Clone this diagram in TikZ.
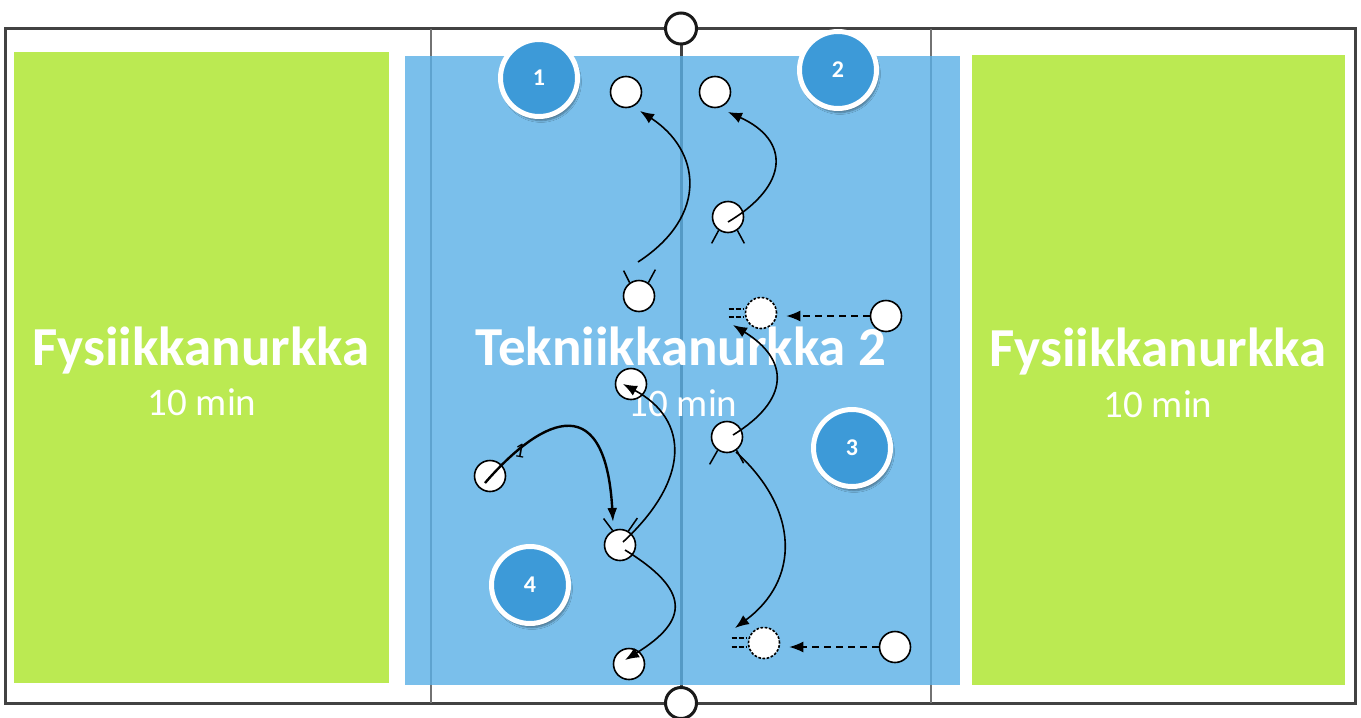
\documentclass[tikz,border=0pt]{standalone}
\usepackage{fontspec}
\setmainfont{Carlito}
\usetikzlibrary{calc,arrows.meta,shadows.blur}
\definecolor{grn}{HTML}{BBEA52}
\definecolor{blu}{HTML}{59B0E7}
\definecolor{dot}{HTML}{3D9AD8}
\definecolor{court}{HTML}{424242}
\definecolor{side}{HTML}{727272}
\begin{document}
\begin{tikzpicture}[x=1pt,y=-1pt,
  player/.style={circle,draw=black,fill=white,line width=1.6pt,minimum size=31pt,inner sep=0pt},
  ghost/.style={player,dash pattern=on 2.6pt off 1.6pt},
  netpost/.style={circle,draw=black!90,fill=white,line width=3pt,minimum size=31pt,inner sep=0pt},
  arr/.style={line width=1.6pt,-{Latex[length=14pt,width=11pt]}},
  thickarr/.style={line width=2.4pt,-{Latex[length=14pt,width=10pt]}},
  dasharr/.style={line width=1.4pt,dash pattern=on 7pt off 5pt,-{Latex[length=14pt,width=11pt]}},
  leg/.style={line width=1.5pt},
  marks/.style={line width=1.3pt,dash pattern=on 5pt off 2pt},
  num/.style={circle,fill=dot,draw=white,line width=5pt,minimum size=77pt,inner sep=0pt,
    text=white,font=\bfseries\fontsize{24}{26}\selectfont,
    blur shadow={shadow xshift=2pt,shadow yshift=-4pt,shadow blur steps=6,shadow opacity=40}},
  big/.style={text=white,font=\bfseries\fontsize{55}{60}\selectfont,anchor=base,inner sep=0pt},
  small/.style={text=white,font=\fontsize{39}{44}\selectfont,anchor=base,inner sep=0pt}
]
\useasboundingbox (0,0) rectangle (1361,718);
\fill[white] (0,0) rectangle (1361,718);

% zones
\fill[grn] (14,52) rectangle (389,683);
\fill[grn] (972,55) rectangle (1345,685);

% court lines
\draw[court,line width=3pt] (5.5,28.5) rectangle (1355,703);
\draw[side,line width=2pt] (431,28.5) -- (431,703);
\draw[side,line width=2pt] (931,28.5) -- (931,703);
\draw[court,line width=3pt] (681,28.5) -- (681,703);

\fill[blu,fill opacity=0.8] (405,55.5) rectangle (960,685);

\node[netpost] (nettop) at (681,28.5) {};
\node[netpost] (netbot) at (681,703) {};

% texts
\node[big] (tl) at (201,365) {Fysiikkanurkka};
\node[small] (ml) at (202,415) {10 min};
\node[big] (tc) at (681,365) {Tekniikkanurkka 2};
\node[small] (mc) at (683,416) {10 min};
\node[big] (tr) at (1158,366) {Fysiikkanurkka};
\node[small] (mr) at (1158,417) {10 min};

% numbered stations
\node[num] (n1) at (539,78) {1};
\node[num] (n2) at (838,70) {2};
\node[num] (n3) at (852,448) {3};
\node[num] (n4) at (530,585) {4};

% players
\node[player] (p1) at (626,92) {};
\node[player] (p2) at (715,92) {};
\node[player] (p3) at (728,217) {};
\node[player] (p4) at (639,296) {};
\node[ghost]  (d1) at (761,313) {};
\node[player] (p5) at (886,316) {};
\node[player] (p6) at (631,384) {};
\node[player] (p7) at (727,437) {};
\node[player] (p8) at (490,476) {};
\node[player] (p9) at (620,545) {};
\node[player] (p10) at (629,664) {};
\node[ghost]  (d2) at (764,643) {};
\node[player] (p11) at (895,647) {};

% legs
\draw[leg] (p3.235) -- ++(-7,13);
\draw[leg] (p3.305) -- ++(7,13);
\draw[leg] (p7.235) -- ++(-8,14);
\draw[leg] (p7.306) -- ++(7,13);
\draw[leg] (p4.125) -- ++(-6,-12);
\draw[leg] (p4.55) -- ++(7,-13);
\draw[leg] (p9.117) -- ++(-9,-12);
\draw[leg] (p9.59) -- ++(9,-13);

% ghost marks
\draw[marks] ($(d1.west)+(-16,-4)$) -- ++(15,0);
\draw[marks] ($(d1.west)+(-16,4)$) -- ++(15,0);
\draw[marks] ($(d2.west)+(-16,-5)$) -- ++(15,0);
\draw[marks] ($(d2.west)+(-16,4)$) -- ++(15,0);

% movement arrows
\draw[arr] ($(p4.center)+(-1,-34)$) .. controls +(72,-47) and +(60,39) .. ($(p1.center)+(14,19)$);
\draw[arr] ($(p3.center)+(0,5)$) .. controls +(62,-37) and +(62,28) .. ($(p2.center)+(13,20)$);
\draw[arr] ($(p7.center)+(6,-2)$) .. controls +(57,-35) and +(57,35) .. ($(d1.center)+(-28,12)$);
\draw[arr] ($(p7.center)+(9,15)$) .. controls +(64,58) and +(65,-48) .. ($(d2.center)+(-29,-15)$);
\draw[thickarr] ($(p8.center)+(-5,7)$) .. controls +(50,-58) and +(-8,-142) .. ($(p9.center)+(-7,-23)$);
\draw[arr] ($(p9.center)+(3,-3)$) .. controls +(67,-62) and +(67,36) .. ($(p6.center)+(-8,0)$);
\draw[arr] ($(p9.center)+(5,5)$) .. controls +(65,40) and +(65,-40) .. ($(p10.center)+(-4,-4)$);
\node[font=\fontsize{21}{21}\selectfont,rotate=-10,inner sep=0pt] (one) at (520,451) {1};

% dashed passes
\draw[dasharr] (p5.west) -- (p5.west -| d1.east) [shorten >=9pt];
\draw[dasharr] (p11.west) -- (p11.west -| d2.east) [shorten >=9pt];
\end{tikzpicture}
\end{document}
